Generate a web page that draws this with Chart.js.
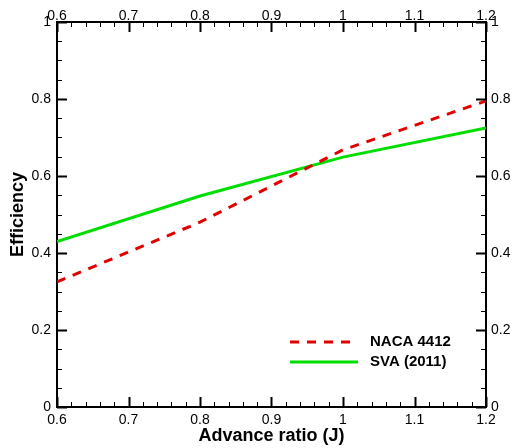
<!DOCTYPE html>
<html>
<head>
<meta charset="utf-8">
<script src="https://cdn.jsdelivr.net/npm/chart.js@4"></script>
<style>
  html, body { margin: 0; padding: 0; background: #fff; }
  canvas { display: block; }
</style>
</head>
<body>
<canvas id="effChart" width="512" height="448"></canvas>
<script>
// Data
const advanceRatio = [0.6, 0.8, 1.0, 1.2];
const nacaEfficiency = [0.325, 0.48, 0.668, 0.795];
const svaEfficiency = [0.43, 0.548, 0.649, 0.725];
const seriesLabels = ['NACA 4412', 'SVA (2011)'];

const FONT = 'Liberation Sans, Arial, Helvetica, sans-serif';

// Inward major/minor ticks on all four sides
const tickPlugin = {
    id: 'inwardTicks',
    afterDraw(chart) {
        const ctx = chart.ctx;
        const area = chart.chartArea;
        const x = chart.scales.x;
        const y = chart.scales.y;
        ctx.save();
        ctx.strokeStyle = '#000';
        // x ticks, every 0.02, major every 0.1
        for (let i = 0; i <= 30; i++) {
            const v = 0.6 + i * 0.02;
            const px = Math.round(x.getPixelForValue(v)) + 0.5;
            const major = i % 5 === 0;
            const len = major ? 10 : 5;
            ctx.lineWidth = major ? 2 : 1;
            ctx.beginPath();
            ctx.moveTo(px, area.bottom);
            ctx.lineTo(px, area.bottom - len);
            ctx.moveTo(px, area.top);
            ctx.lineTo(px, area.top + len);
            ctx.stroke();
        }
        // y ticks, every 0.05, major every 0.2
        for (let i = 0; i <= 20; i++) {
            const v = i * 0.05;
            const py = Math.round(y.getPixelForValue(v)) + 0.5;
            const major = i % 4 === 0;
            const len = major ? 10 : 5;
            ctx.lineWidth = major ? 2 : 1;
            ctx.beginPath();
            ctx.moveTo(area.left, py);
            ctx.lineTo(area.left + len, py);
            ctx.moveTo(area.right, py);
            ctx.lineTo(area.right - len, py);
            ctx.stroke();
        }
        ctx.restore();
    }
};

// Legend drawn inside the plot, lower right
const legendPlugin = {
    id: 'innerLegend',
    afterDatasetsDraw(chart) {
        const ctx = chart.ctx;
        const rows = [342, 362];
        ctx.save();
        chart.data.datasets.forEach((ds, i) => {
            const yy = rows[i];
            ctx.strokeStyle = ds.borderColor;
            ctx.lineWidth = ds.borderWidth;
            ctx.setLineDash(ds.borderDash || []);
            ctx.beginPath();
            ctx.moveTo(290, yy);
            ctx.lineTo(358, yy);
            ctx.stroke();
            ctx.setLineDash([]);
            ctx.fillStyle = '#000';
            ctx.font = 'bold 15px ' + FONT;
            ctx.textAlign = 'left';
            ctx.textBaseline = 'middle';
            ctx.fillText(ds.label, 370, yy);
        });
        ctx.restore();
    }
};

function fixSize(prop, size) {
    return function (scale) { scale[prop] = size; };
}

// 1.0 -> "1", 0.0 -> "0", 0.60000001 -> "0.6"
function plainNumber(value) {
    return String(Number(value.toFixed(2)));
}

const tickFont = { family: FONT, size: 14 };
const titleFont = { family: FONT, size: 18, weight: 'bold' };

const ctx = document.getElementById('effChart').getContext('2d');
const effChart = new Chart(ctx, {
    type: 'line',
    data: {
        datasets: [
            {
                label: seriesLabels[0],
                data: advanceRatio.map((j, i) => ({ x: j, y: nacaEfficiency[i] })),
                borderColor: '#e00000',
                borderWidth: 3,
                borderDash: [9, 8],
                pointRadius: 0,
                tension: 0,
                fill: false
            },
            {
                label: seriesLabels[1],
                data: advanceRatio.map((j, i) => ({ x: j, y: svaEfficiency[i] })),
                borderColor: '#00dd00',
                borderWidth: 3,
                pointRadius: 0,
                tension: 0,
                fill: false
            }
        ]
    },
    options: {
        responsive: false,
        animation: false,
        layout: { padding: 0 },
        plugins: {
            legend: { display: false },
            tooltip: { enabled: false }
        },
        scales: {
            x: {
                type: 'linear',
                position: 'bottom',
                min: 0.6,
                max: 1.2,
                afterFit: fixSize('height', 41),
                ticks: { stepSize: 0.1, color: '#000', font: tickFont, padding: 5, maxRotation: 0, callback: plainNumber },
                grid: { display: true, drawOnChartArea: false, drawTicks: false },
                border: { color: '#000', width: 2 },
                title: { display: true, text: 'Advance ratio (J)', color: '#000', font: titleFont, padding: { top: 0, bottom: 1 } }
            },
            x2: {
                type: 'linear',
                position: 'top',
                min: 0.6,
                max: 1.2,
                afterFit: fixSize('height', 22),
                ticks: { stepSize: 0.1, color: '#000', font: tickFont, padding: -3, maxRotation: 0, callback: plainNumber },
                grid: { display: true, drawOnChartArea: false, drawTicks: false },
                border: { color: '#000', width: 2 }
            },
            y: {
                type: 'linear',
                position: 'left',
                min: 0,
                max: 1,
                afterFit: fixSize('width', 57),
                ticks: { stepSize: 0.2, color: '#000', font: tickFont, padding: 6, callback: plainNumber },
                grid: { display: true, drawOnChartArea: false, drawTicks: false },
                border: { color: '#000', width: 2 },
                title: { display: true, text: 'Efficiency', color: '#000', font: titleFont, padding: { top: 7, bottom: 0 } }
            },
            y2: {
                type: 'linear',
                position: 'right',
                min: 0,
                max: 1,
                afterFit: fixSize('width', 26),
                ticks: { stepSize: 0.2, color: '#000', font: tickFont, padding: 5, callback: plainNumber },
                grid: { display: true, drawOnChartArea: false, drawTicks: false },
                border: { color: '#000', width: 2 }
            }
        }
    },
    plugins: [tickPlugin, legendPlugin]
});
</script>
</body>
</html>
